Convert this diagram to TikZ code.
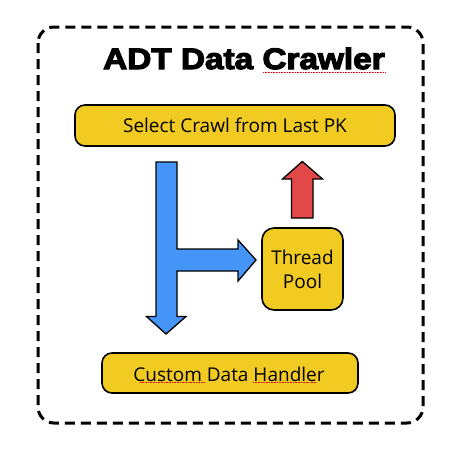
\documentclass[tikz,border=0pt]{standalone}
\usepackage{fontspec}
\setmainfont{Open Sans}
\newfontfamily\titlefont[FakeBold=4, FakeStretch=1.13]{Liberation Sans Bold}
\definecolor{boxyellow}{HTML}{F2CB22}
\definecolor{arrowblue}{HTML}{4595F8}
\definecolor{arrowred}{HTML}{E34848}
\tikzset{
  procbox/.style={draw=black, line width=1.6pt, fill=boxyellow, rounded corners=10pt},
  bigarrow/.style={draw=black, line width=1.3pt, line join=miter},
  boxtext/.style={font=\fontsize{19}{24}\selectfont, inner sep=0pt, align=center},
  spell/.style={draw=red, line width=0.6pt, dash pattern=on 0.8pt off 0.8pt},
}
\begin{document}
\begin{tikzpicture}[x=1pt,y=-1pt]
\useasboundingbox (0,0) rectangle (462,463);
\fill[white] (0,0) rectangle (462,463);
% outer dashed frame
\draw[line width=3pt, dash pattern=on 10pt off 6pt, rounded corners=16pt] (38,27) rectangle (423,423);
% title
\node[anchor=base west, inner sep=0pt, font=\titlefont\fontsize{29.5}{30}\selectfont] (title) at (103,69) {ADT Data Crawler};
\coordinate (t1) at (263,72.5);
\coordinate (t2) at (385,72.5);
\draw[spell] (t1) -- (t2);
% boxes
\draw[procbox] (75,105) rectangle (395,146);
\node[boxtext] (select) at (235,125) {Select Crawl from Last PK};
\draw[procbox, rounded corners=12pt] (262,228) rectangle (343,310);
\node[boxtext] (pool) at (302.5,269) {Thread\\Pool};
\draw[procbox] (102,353) rectangle (358,393);
\node[boxtext] (handler) at (229,374) {Custom Data Handler};
\coordinate (u1) at (140,382.5);
\coordinate (u2) at (205,382.5);
\coordinate (u3) at (253,382.5);
\coordinate (u4) at (317,382.5);
\draw[spell] (u1) -- (u2);
\draw[spell] (u3) -- (u4);
% blue split arrow
\draw[bigarrow, fill=arrowblue] (156,162) -- (177,162) -- (177,249) -- (238,249) -- (238,240) -- (256,260) -- (238,281) -- (238,271) -- (177,271) -- (177,316.5) -- (186,316.5) -- (166,334) -- (146.5,316.5) -- (156,316.5) -- cycle;
% red up arrow
\draw[bigarrow, fill=arrowred] (291.5,218) -- (291.5,179) -- (282.5,179) -- (302.3,161.5) -- (322.5,179) -- (313,179) -- (313,218) -- cycle;
\end{tikzpicture}
\end{document}
